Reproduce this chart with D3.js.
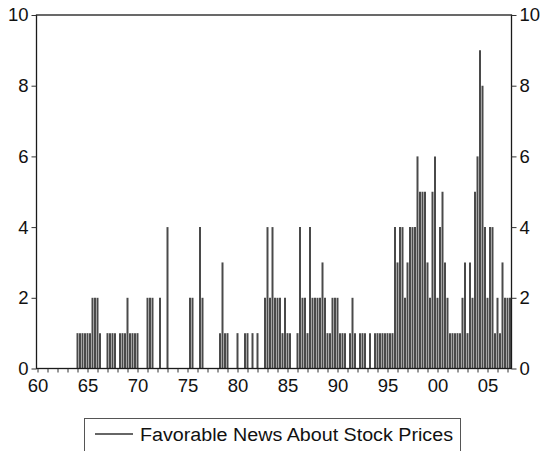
<!DOCTYPE html>
<html>
<head>
<meta charset="utf-8">
<script src="https://cdn.jsdelivr.net/npm/d3@7/dist/d3.min.js"></script>
<style>
  html, body { margin: 0; padding: 0; background: #fff; }
  svg text { font-family: "Liberation Sans", Arial, sans-serif; fill: #111; }
</style>
</head>
<body>
<svg id="chart" width="545" height="451"></svg>
<script>
// Quarterly counts, 1960Q1 onward
const startYear = 1960;
const counts = [
  0,0,0,0,  0,0,0,0,  0,0,0,0,  0,0,0,0,   // 1960-63
  1,1,1,1,  1,1,2,2,  2,1,0,0,  1,1,1,1,   // 1964-67
  0,1,1,1,  2,1,1,1,  1,0,0,0,  2,2,2,0,   // 1968-71
  0,2,0,0,  4,0,0,0,  0,0,0,0,  0,2,2,0,   // 1972-75
  0,4,2,0,  0,0,0,0,  0,1,3,1,  1,0,0,0,   // 1976-79
  1,0,0,1,  1,0,1,0,  1,0,0,2,  4,2,4,2,   // 1980-83
  2,2,1,2,  1,1,0,0,  1,4,2,2,  1,4,2,2,   // 1984-87
  2,2,3,2,  1,1,2,2,  2,1,1,1,  0,1,2,1,   // 1988-91
  0,1,1,1,  0,1,0,1,  1,1,1,1,  1,1,1,4,   // 1992-95
  3,4,4,2,  3,4,4,4,  6,5,5,5,  3,2,5,6,   // 1996-99
  2,4,5,3,  2,1,1,1,  1,1,2,3,  1,3,2,5,   // 2000-03
  6,9,8,4,  2,4,4,1,  2,1,3,2,  2,2        // 2004-07
];
const yTicks = [0, 2, 4, 6, 8, 10];
const xLabelYears = [1960, 1965, 1970, 1975, 1980, 1985, 1990, 1995, 2000, 2005];
const seriesName = "Favorable News About Stock Prices";

const series = counts.map((v, i) => ({ t: startYear + i / 4, v }));

const svg = d3.select("#chart");
const plotLeft = 36.5, plotRight = 511.5, plotTop = 15, plotBottom = 368.5;

const x = d3.scaleLinear().domain([1960, 2007.4]).range([37.5, 511.5]);
const y = d3.scaleLinear().domain([0, 10]).range([plotBottom, plotTop]);

// spikes
svg.append("g")
  .selectAll("line")
  .data(series.filter(d => d.v > 0))
  .join("line")
  .attr("x1", d => x(d.t)).attr("x2", d => x(d.t))
  .attr("y1", y(0)).attr("y2", d => y(d.v))
  .attr("stroke", "#4a4a4a")
  .attr("stroke-width", 2);

// frame
svg.append("rect")
  .attr("x", plotLeft).attr("y", plotTop)
  .attr("width", plotRight - plotLeft).attr("height", plotBottom - plotTop)
  .attr("fill", "none").attr("stroke", "#1a1a1a").attr("stroke-width", 1.3);

// left axis
const leftAxis = d3.axisLeft(y).tickValues(yTicks).tickSize(5).tickPadding(3);
const gl = svg.append("g").attr("transform", `translate(${plotLeft},0)`).call(leftAxis);
// right axis
const rightAxis = d3.axisRight(y).tickValues(yTicks).tickSize(5).tickPadding(3);
const gr = svg.append("g").attr("transform", `translate(${plotRight},0)`).call(rightAxis);
// bottom axis: year ticks, labels every five years
const years = d3.range(1960, 2008);
const bottomAxis = d3.axisBottom(x).tickValues(years).tickSize(4).tickPadding(6)
  .tickFormat(d => xLabelYears.includes(d) ? d3.format("02d")(d % 100) : "");
const gb = svg.append("g").attr("transform", `translate(0,${plotBottom})`).call(bottomAxis);

[gl, gr, gb].forEach(g => {
  g.select(".domain").remove();
  g.selectAll(".tick line").attr("stroke", "#333").attr("stroke-width", 1);
  g.selectAll(".tick text").attr("font-size", 18.5).attr("fill", "#111")
    .style("font-family", '"Liberation Sans", Arial, sans-serif');
});

// legend
const lg = svg.append("g");
lg.append("rect").attr("x", 84.5).attr("y", 418.5).attr("width", 376).attr("height", 36)
  .attr("fill", "#fff").attr("stroke", "#555").attr("stroke-width", 1);
lg.append("line").attr("x1", 95).attr("x2", 133).attr("y1", 434).attr("y2", 434)
  .attr("stroke", "#333").attr("stroke-width", 1.4);
lg.append("text").attr("x", 140).attr("y", 441).attr("font-size", 18)
  .attr("textLength", 313).attr("lengthAdjust", "spacingAndGlyphs")
  .text(seriesName);
</script>
</body>
</html>
